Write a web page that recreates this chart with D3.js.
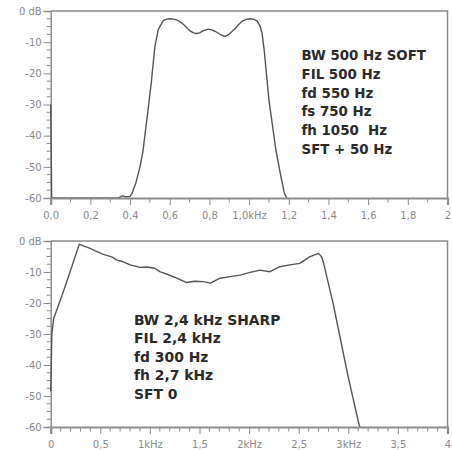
<!DOCTYPE html>
<html>
<head>
<meta charset="utf-8">
<script src="https://cdn.jsdelivr.net/npm/d3@7"></script>
<style>
  html, body { margin: 0; padding: 0; background: #fff; }
  svg { display: block; }
  .tick-label { font-family: "DejaVu Sans", sans-serif; font-size: 10px; fill: #8a8a8a; }
  .note { font-family: "DejaVu Sans", sans-serif; font-weight: bold; fill: #2a2a2a; }
</style>
</head>
<body>
<svg id="chart" width="452" height="450"></svg>
<script>
// Top panel: 500 Hz soft filter response (kHz, dB)
const softFreq = [0, 0.005, 0.34, 0.36, 0.38, 0.40, 0.41, 0.43, 0.45, 0.465, 0.49, 0.507, 0.525, 0.542,
  0.567, 0.585, 0.60, 0.62, 0.641, 0.66, 0.68, 0.70, 0.72, 0.735, 0.75, 0.77, 0.794, 0.81, 0.828, 0.85,
  0.878, 0.90, 0.928, 0.95, 0.964, 0.985, 1.004, 1.025, 1.04, 1.055, 1.065, 1.076, 1.10, 1.135, 1.16,
  1.177, 1.19];
const softDb = [-30, -60, -60, -59.3, -59.6, -59.5, -58.5, -55, -50, -45, -32, -23, -11.5, -6,
  -3.1, -2.6, -2.5, -2.6, -3.0, -3.8, -5.0, -6.3, -7.0, -7.2, -7.0, -6.3, -5.8, -6.0, -6.5, -7.3,
  -8.2, -7.4, -5.8, -4.2, -3.3, -2.7, -2.5, -2.7, -3.2, -4.8, -7, -12.5, -28.5, -44.6, -53,
  -58.3, -60];

// Bottom panel: 2.4 kHz sharp filter response (kHz, dB)
const sharpFreq = [0, 0.012, 0.03, 0.12, 0.2, 0.288, 0.33, 0.396, 0.45, 0.53, 0.615, 0.665, 0.72, 0.8,
  0.9, 0.97, 1.05, 1.1, 1.18, 1.27, 1.37, 1.45, 1.54, 1.61, 1.707, 1.81, 1.91, 2.01, 2.11, 2.21, 2.31,
  2.41, 2.51, 2.61, 2.70, 2.73, 2.75, 2.85, 2.91, 3.0, 3.11, 3.12];
const sharpDb = [-48.5, -30, -25, -17, -9.5, -1.0, -1.6, -2.4, -3.2, -4.3, -5.1, -6.1, -6.6, -7.7,
  -8.5, -8.4, -8.8, -9.9, -10.8, -12.0, -13.4, -13.0, -13.1, -13.6, -12.0, -11.5, -11.0, -10.1, -9.4, -9.9, -8.3,
  -7.7, -7.2, -5.1, -4.0, -5.1, -7, -20.6, -30, -44, -59.5, -60];

// Tick labels
const dbTicks = [0, -10, -20, -30, -40, -50, -60];
const dbLabels = ["0 dB", "-10", "-20", "-30", "-40", "-50", "-60"];
const softTicks = [0, 0.2, 0.4, 0.6, 0.8, 1.0, 1.2, 1.4, 1.6, 1.8, 2.0];
const softLabels = ["0,0", "0,2", "0,4", "0,6", "0,8", "1,0kHz", "1,2", "1,4", "1,6", "1,8", "2"];
const sharpTicks = [0, 0.5, 1, 1.5, 2, 2.5, 3, 3.5, 4];
const sharpLabels = ["0", "0,5", "1kHz", "1,5", "2kHz", "2,5", "3kHz", "3,5", "4"];

// Annotation text blocks
const softNotes = ["BW 500 Hz SOFT", "FIL 500 Hz", "fd 550 Hz", "fs 750 Hz", "fh 1050  Hz", "SFT + 50 Hz"];
const sharpNotes = ["BW 2,4 kHz SHARP", "FIL 2,4 kHz", "fd 300 Hz", "fh 2,7 kHz", "SFT 0"];

const svg = d3.select("#chart");
const axisColor = "#8c8c8c";
const lineColor = "#555";

function styleAxis(a, width) {
  a.select(".domain").attr("stroke", axisColor).attr("stroke-width", width);
  a.selectAll(".tick line").attr("stroke", axisColor);
  a.selectAll(".tick text").attr("class", "tick-label").attr("fill", null);
}

function panel(opts) {
  const { left, right, top, bottom, xMax, xTicks, xLabels, minorStep, majorStep,
          freq, db, notes, noteX, noteY, noteStep, noteSize } = opts;
  const x = d3.scaleLinear().domain([0, xMax]).range([left, right]);
  const y = d3.scaleLinear().domain([-60, 0]).range([bottom, top]);
  const g = svg.append("g");

  // frame: top and right edges
  g.append("path")
    .attr("d", `M${left},${top}H${right}V${bottom}`)
    .attr("fill", "none").attr("stroke", axisColor).attr("stroke-width", 1.5);

  // left axis with major/minor ticks
  const yAxis = d3.axisLeft(y).tickValues(dbTicks)
    .tickFormat((d, i) => dbLabels[i]).tickSize(7).tickPadding(2);
  const ya = g.append("g").attr("transform", `translate(${left},0)`).call(yAxis);
  styleAxis(ya, 1.5);
  const yMinor = d3.range(-60, 0.01, 2.5).filter(v => v % 10 !== 0);
  g.append("g").selectAll("line").data(yMinor).join("line")
    .attr("x1", left - 4).attr("x2", left)
    .attr("y1", d => y(d)).attr("y2", d => y(d))
    .attr("stroke", axisColor);

  // response trace (the bottom axis is drawn over its noise floor)
  const pts = freq.map((f, i) => [f, db[i]]);
  g.append("path").datum(pts)
    .attr("fill", "none").attr("stroke", lineColor).attr("stroke-width", 1.4)
    .attr("stroke-linejoin", "round")
    .attr("d", d3.line().x(d => x(d[0])).y(d => y(d[1])));

  // bottom axis with major/minor ticks
  const xAxis = d3.axisBottom(x).tickValues(xTicks)
    .tickFormat((d, i) => xLabels[i]).tickSize(7).tickPadding(7);
  const xa = g.append("g").attr("transform", `translate(0,${bottom})`).call(xAxis);
  styleAxis(xa, 2.2);
  const n = Math.round(xMax / minorStep);
  const xMinor = d3.range(0, n + 1).map(i => i * minorStep)
    .filter(v => Math.abs(v / majorStep - Math.round(v / majorStep)) > 1e-6);
  g.append("g").selectAll("line").data(xMinor).join("line")
    .attr("x1", d => x(d)).attr("x2", d => x(d))
    .attr("y1", bottom).attr("y2", bottom + 4.5)
    .attr("stroke", axisColor);

  // settings text
  g.append("g").selectAll("text").data(notes).join("text")
    .attr("class", "note")
    .style("font-size", noteSize + "px")
    .attr("x", noteX)
    .attr("y", (d, i) => noteY + i * noteStep)
    .attr("xml:space", "preserve")
    .style("white-space", "pre")
    .text(d => d);
}

panel({
  left: 50.7, right: 447.5, top: 11, bottom: 198, xMax: 2,
  xTicks: softTicks, xLabels: softLabels, minorStep: 0.1, majorStep: 0.2,
  freq: softFreq, db: softDb,
  notes: softNotes, noteX: 301.5, noteY: 60, noteStep: 18.8, noteSize: 13.4
});

panel({
  left: 50.7, right: 447.5, top: 241, bottom: 427, xMax: 4,
  xTicks: sharpTicks, xLabels: sharpLabels, minorStep: 0.1, majorStep: 0.5,
  freq: sharpFreq, db: sharpDb,
  notes: sharpNotes, noteX: 134, noteY: 325, noteStep: 18.4, noteSize: 13.9
});
</script>
</body>
</html>
